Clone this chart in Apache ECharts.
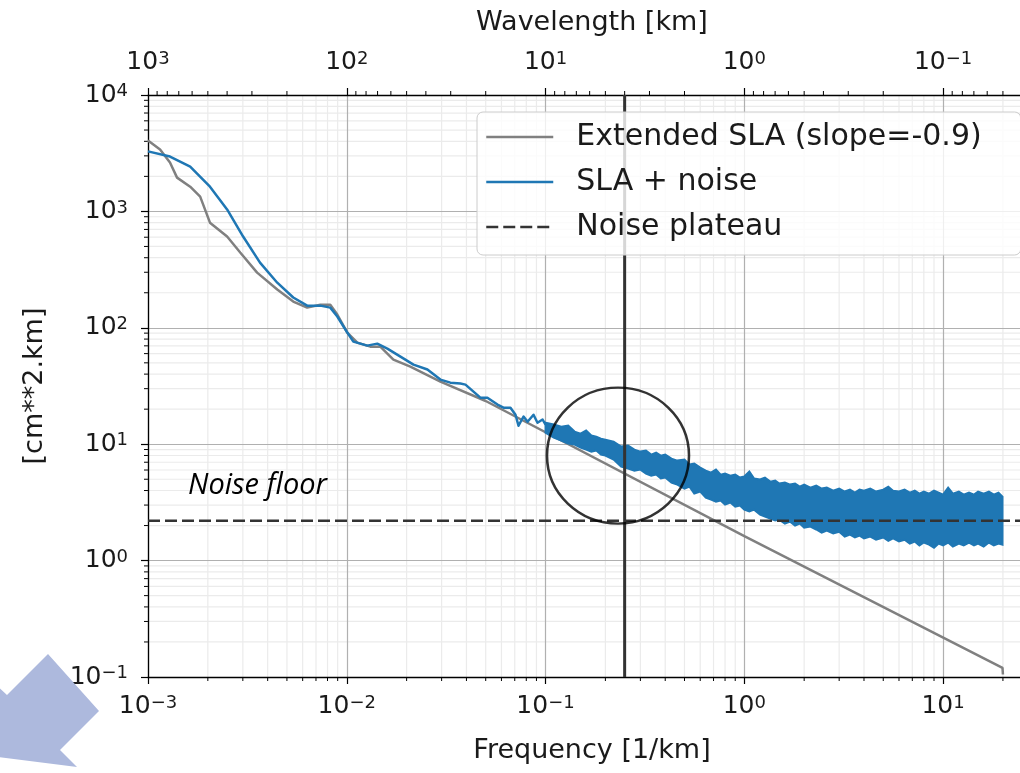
<!DOCTYPE html>
<html>
<head>
<meta charset="utf-8">
<script src="https://cdn.jsdelivr.net/npm/echarts@6/dist/echarts.min.js"></script>
<style>
html,body{margin:0;padding:0;background:#ffffff;}
#c{width:1020px;height:773px;}
</style>
</head>
<body>
<div id="c"></div>
<script>
// ---------------- data ----------------
// Extended SLA (slope = -0.9), gray
const slaFreq  = [0.00100, 0.00115, 0.00129, 0.00140, 0.00163, 0.00183, 0.00205, 0.00250, 0.00291, 0.00354,
                  0.00447, 0.00538, 0.00632, 0.00736, 0.00826, 0.00896, 0.01006, 0.01130, 0.01314, 0.01475,
                  0.01716, 0.02088, 0.02958, 0.0500, 1.00, 19.9, 20.0];
const slaValue = [4060, 3400, 2630, 1950, 1630, 1340, 800, 608, 443, 298,
                  213, 168, 149, 158, 158, 130, 91, 74.6, 68.9, 68.9,
                  53.3, 46.4, 34.5, 23.5, 1.62, 0.12, 0.105];

// SLA + noise : single-line part (low frequencies)
const noiseLineFreq  = [0.00100, 0.00129, 0.00163, 0.00205, 0.00250, 0.00301, 0.00366, 0.00447, 0.00538, 0.00632,
                        0.00736, 0.00826, 0.00896, 0.01006, 0.01079, 0.01268, 0.01424, 0.01600, 0.01862, 0.02165,
                        0.02545, 0.02958, 0.0332, 0.0373, 0.03955, 0.0434, 0.0470, 0.0510, 0.0573, 0.0614,
                        0.0666, 0.0706, 0.0731, 0.0775, 0.0812, 0.0870, 0.0911, 0.0966, 0.1000];
const noiseLineValue = [3280, 2960, 2430, 1630, 1040, 608, 363, 244, 182, 155,
                        155, 149, 125, 91, 76.1, 70.3, 73.1, 66.3, 56.6, 48.3,
                        43.8, 35.9, 33.8, 33.2, 32.5, 28.3, 25.1, 25.1, 21.9, 20.6,
                        20.6, 17.9, 14.4, 17.3, 15.6, 17.9, 15.3, 16.3, 14.7];

// SLA + noise : noisy band (high frequencies), upper and lower envelope
const bandFreq  = [0.10, 0.11, 0.12, 0.13, 0.14, 0.15, 0.16, 0.17, 0.18, 0.19,
                   0.20, 0.22, 0.24, 0.26, 0.28, 0.30, 0.32, 0.34, 0.36, 0.38,
                   0.40, 0.43, 0.46, 0.50, 0.53, 0.56, 0.60, 0.64, 0.68, 0.72,
                   0.76, 0.80, 0.85, 0.90, 0.95, 1.0, 1.06, 1.12, 1.2, 1.27,
                   1.35, 1.43, 1.5, 1.6, 1.7, 1.8, 1.9, 2.0, 2.15, 2.3,
                   2.45, 2.6, 2.8, 3.0, 3.2, 3.4, 3.6, 3.8, 4.0, 4.3,
                   4.6, 5.0, 5.3, 5.6, 6.0, 6.4, 6.8, 7.2, 7.6, 8.0,
                   8.5, 9.0, 9.5, 10, 10.6, 11.2, 12, 12.7, 13.5, 14.3,
                   15, 16, 17, 18, 19, 19.9];
const bandUpper = [15.33, 14.74, 14.16, 14.44, 12.83, 12.33, 13.09, 11.86, 11.62, 11.17,
                   10.95, 10.53, 9.54, 9.73, 8.99, 8.64, 8.81, 8.14, 8.47, 7.98,
                   8.14, 7.52, 7.23, 7.37, 6.68, 6.81, 6.30, 5.93, 5.70, 6.05,
                   5.48, 5.59, 5.37, 5.48, 5.17, 5.27, 5.82, 5.07, 4.97, 5.17,
                   4.77, 4.87, 4.59, 4.68, 4.50, 4.59, 4.32, 4.50, 4.24, 4.41,
                   4.16, 4.24, 3.99, 4.16, 3.92, 4.07, 3.84, 4.07, 3.99, 4.16,
                   3.92, 4.07, 4.32, 3.99, 3.92, 4.07, 3.84, 3.99, 3.76, 3.92,
                   3.76, 3.99, 3.84, 3.69, 4.24, 3.76, 3.92, 3.69, 3.84, 3.69,
                   3.92, 3.76, 3.92, 3.69, 3.84, 3.55];
const bandLower = [12.58, 11.40, 10.74, 10.12, 9.92, 9.35, 8.99, 8.64, 8.81, 8.14,
                   7.98, 7.37, 6.42, 6.17, 5.93, 6.05, 5.59, 5.37, 5.48, 5.07,
                   5.17, 4.68, 4.50, 4.16, 4.32, 3.76, 3.92, 3.48, 3.34, 3.21,
                   3.28, 3.03, 3.15, 2.91, 2.97, 2.74, 2.64, 2.74, 2.48, 2.39,
                   2.30, 2.21, 2.25, 2.08, 2.16, 2.00, 2.08, 1.92, 1.96, 1.85,
                   1.74, 1.81, 1.71, 1.77, 1.61, 1.67, 1.58, 1.64, 1.55, 1.61,
                   1.51, 1.58, 1.48, 1.55, 1.46, 1.51, 1.40, 1.46, 1.35, 1.43,
                   1.37, 1.29, 1.40, 1.35, 1.43, 1.32, 1.40, 1.35, 1.43, 1.35,
                   1.40, 1.32, 1.43, 1.35, 1.40, 1.37];

const plateauValue = 2.2;       // Noise plateau
const cutoffFreq   = 0.25;      // vertical line
const circleCenter = [0.2315, 7.98]; // annotation circle centre (freq, value)

// axes
const xMin = 0.001, xMax = 34.5, yMin = 0.1, yMax = 10000;
const minorMult = [2, 3, 4, 5, 6, 7, 8, 9];
const xDecades = [0.001, 0.01, 0.1, 1, 10];
const yDecades = [0.1, 1, 10, 100, 1000];
const wlDecades = [0.01, 0.1, 1, 10, 100];

const FONT = 'DejaVu Sans';
const TXT = '#1a1a1a';
const GRAY = '#808080', BLUE = '#1f77b4', DARK = '#333333';

// ---------------- derived tables ----------------
const slaData = slaFreq.map((f, i) => [f, slaValue[i]]);
const noiseData = noiseLineFreq.map((f, i) => [f, noiseLineValue[i]]);
const bandData = bandFreq.map((f, i) => [f, bandUpper[i], bandLower[i]]);

const xMinor = [], yMinor = [], topMinor = [];
xDecades.forEach(d => minorMult.forEach(m => { const v = d * m; if (v < xMax) xMinor.push([v, 1]); }));
yDecades.forEach(d => minorMult.forEach(m => { const v = d * m; if (v < yMax) yMinor.push([1, v]); }));
wlDecades.forEach(d => minorMult.forEach(m => { const f = 1 / (d * m); if (f > xMin && f < xMax) topMinor.push([f, 1]); }));

function supTxt(e) { return e < 0 ? '\u2212' + (-e) : String(e); }
function powLabel(e) { return '{b|10}{s|' + supTxt(e) + '}'; }
const rich = {
  b: { fontFamily: FONT, fontSize: 25, lineHeight: 25, padding: [4, 0, 0, 0], verticalAlign: 'bottom', color: TXT },
  s: { fontFamily: FONT, fontSize: 18, lineHeight: 18, verticalAlign: 'top', color: TXT }
};

const chart = echarts.init(document.getElementById('c'), null, { renderer: 'canvas' });

const option = {
  animation: false,
  backgroundColor: '#ffffff',
  grid: { left: 148, right: -30, top: 95, bottom: 96, containLabel: false, outerBoundsMode: 'none' },
  legend: {
    data: ['Extended SLA (slope=-0.9)', 'SLA + noise', 'Noise plateau'],
    orient: 'vertical', left: 477, top: 112,
    padding: [7, 39, 10, 8], itemGap: 9, itemWidth: 67, itemHeight: 14,
    backgroundColor: 'rgba(255,255,255,0.8)', borderColor: '#cccccc', borderWidth: 1, borderRadius: 6,
    selectedMode: false,
    itemStyle: { opacity: 0 },
    lineStyle: { width: 2.5 },
    textStyle: { fontFamily: FONT, fontSize: 30, color: TXT, lineHeight: 36, padding: [0, 0, 0, 18] },
    z: 6
  },
  xAxis: [
    {
      type: 'log', logBase: 10, min: xMin, max: xMax, position: 'bottom', z: 1,
      name: 'Frequency [1/km]', nameLocation: 'middle', nameGap: 60,
      nameTextStyle: { fontFamily: FONT, fontSize: 27, color: TXT, padding: [0, 14, 0, 0] },
      axisLine: { show: true, onZero: false, lineStyle: { color: '#000', width: 1.3 } },
      axisTick: { show: true, inside: false, length: 7, lineStyle: { color: '#000', width: 1.2 } },
      axisLabel: { margin: 17, showMaxLabel: false, formatter: v => powLabel(Math.round(Math.log10(v))), rich: rich },
      splitLine: { show: true, lineStyle: { color: '#b0b0b0', width: 1.2 } },
      minorTick: { show: false }, minorSplitLine: { show: false }
    },
    {
      type: 'log', logBase: 10, min: xMin, max: xMax, position: 'top', z: 1,
      name: 'Wavelength [km]', nameLocation: 'middle', nameGap: 59,
      nameTextStyle: { fontFamily: FONT, fontSize: 27, color: TXT, padding: [0, 14, 0, 0] },
      axisLine: { show: true, onZero: false, lineStyle: { color: '#000', width: 1.3 } },
      axisTick: { show: true, inside: false, length: 7, lineStyle: { color: '#000', width: 1.2 } },
      axisLabel: { margin: 20, showMaxLabel: false, formatter: v => powLabel(-Math.round(Math.log10(v))), rich: rich },
      splitLine: { show: false }
    }
  ],
  yAxis: {
    type: 'log', logBase: 10, min: yMin, max: yMax, z: 1,
    name: '[cm**2.km]', nameLocation: 'middle', nameGap: 100, nameRotate: 90,
    nameTextStyle: { fontFamily: FONT, fontSize: 27, color: TXT },
    axisLine: { show: true, onZero: false, lineStyle: { color: '#000', width: 1.3 } },
    axisTick: { show: true, inside: false, length: 7, lineStyle: { color: '#000', width: 1.2 } },
    axisLabel: { margin: 20, formatter: v => powLabel(Math.round(Math.log10(v))), rich: rich },
    splitLine: { show: true, lineStyle: { color: '#b0b0b0', width: 1.2 } }
  },
  series: [
    { // minor vertical grid + bottom minor ticks
      type: 'custom', name: 'xMinorGrid', silent: true, z: 0, xAxisIndex: 0,
      data: xMinor, encode: { x: 0, y: 1 },
      renderItem: (params, api) => {
        const f = api.value(0);
        const p0 = api.coord([f, yMin]), p1 = api.coord([f, yMax]);
        return { type: 'group', children: [
          { type: 'line', shape: { x1: p0[0], y1: p0[1], x2: p1[0], y2: p1[1] }, style: { stroke: '#ebebeb', lineWidth: 1.2 } },
          { type: 'line', shape: { x1: p0[0], y1: p0[1], x2: p0[0], y2: p0[1] + 4 }, style: { stroke: '#000', lineWidth: 1 } }
        ] };
      }
    },
    { // minor horizontal grid + left minor ticks
      type: 'custom', name: 'yMinorGrid', silent: true, z: 0, xAxisIndex: 0,
      data: yMinor, encode: { x: 0, y: 1 },
      renderItem: (params, api) => {
        const v = api.value(1);
        const p0 = api.coord([xMin, v]), p1 = api.coord([xMax, v]);
        return { type: 'group', children: [
          { type: 'line', shape: { x1: p0[0], y1: p0[1], x2: p1[0], y2: p1[1] }, style: { stroke: '#ebebeb', lineWidth: 1.2 } },
          { type: 'line', shape: { x1: p0[0], y1: p0[1], x2: p0[0] - 4, y2: p0[1] }, style: { stroke: '#000', lineWidth: 1 } }
        ] };
      }
    },
    { // top (wavelength) minor ticks
      type: 'custom', name: 'topMinorTicks', silent: true, z: 0, xAxisIndex: 0,
      data: topMinor, encode: { x: 0, y: 1 },
      renderItem: (params, api) => {
        const p = api.coord([api.value(0), yMax]);
        return { type: 'line', shape: { x1: p[0], y1: p[1], x2: p[0], y2: p[1] - 4 }, style: { stroke: '#000', lineWidth: 1 } };
      }
    },
    {
      type: 'line', name: 'Extended SLA (slope=-0.9)', data: slaData, xAxisIndex: 0,
      symbol: 'none', smooth: false, z: 2, silent: true,
      lineStyle: { color: GRAY, width: 2.5 }, itemStyle: { color: GRAY }
    },
    {
      type: 'line', name: 'SLA + noise', data: noiseData, xAxisIndex: 0,
      symbol: 'none', smooth: false, z: 3, silent: true,
      lineStyle: { color: BLUE, width: 2.5, join: 'round' }, itemStyle: { color: BLUE }
    },
    { // noisy band of SLA + noise
      type: 'custom', name: 'SLA + noise (band)', silent: true, z: 3, xAxisIndex: 0,
      data: bandData, encode: { x: 0, y: [1, 2] },
      renderItem: (params, api) => {
        if (params.dataIndex !== 0) return null;
        const pts = [];
        for (let i = 0; i < bandData.length; i++) pts.push(api.coord([bandData[i][0], bandData[i][1]]));
        for (let i = bandData.length - 1; i >= 0; i--) pts.push(api.coord([bandData[i][0], bandData[i][2]]));
        return { type: 'polygon', shape: { points: pts },
                 style: { fill: BLUE, stroke: BLUE, lineWidth: 2, lineJoin: 'miter' } };
      }
    },
    {
      type: 'line', name: 'Noise plateau', data: [[xMin, plateauValue], [xMax, plateauValue]], xAxisIndex: 0,
      symbol: 'none', z: 4, silent: true,
      lineStyle: { color: DARK, width: 2.6, type: [12, 5] }, itemStyle: { color: DARK }
    },
    {
      type: 'line', name: 'cutoff', data: [[cutoffFreq, yMin], [cutoffFreq, yMax]], xAxisIndex: 0,
      symbol: 'none', z: 4, silent: true,
      lineStyle: { color: DARK, width: 3 }
    },
    {
      type: 'scatter', name: 'circle', data: [circleCenter], xAxisIndex: 0,
      symbol: 'circle', symbolSize: [142, 136], z: 5, silent: true,
      itemStyle: { color: 'rgba(0,0,0,0)', borderColor: '#000', borderWidth: 2.5 }
    }
  ],
  graphic: [
    {
      type: 'text', left: 188, top: 471, z: 10, silent: true,
      style: { text: 'Noise floor', fontFamily: 'Open Sans', fontStyle: 'italic', fontSize: 29, fill: '#000' }
    },
    {
      type: 'polygon', z: 20, silent: true,
      shape: { points: [[48, 654], [99, 711], [60, 750], [77, 767], [-1, 757], [-10, 679], [7, 695]] },
      style: { fill: '#adb9dd' }
    }
  ]
};
chart.setOption(option);
</script>
</body>
</html>
